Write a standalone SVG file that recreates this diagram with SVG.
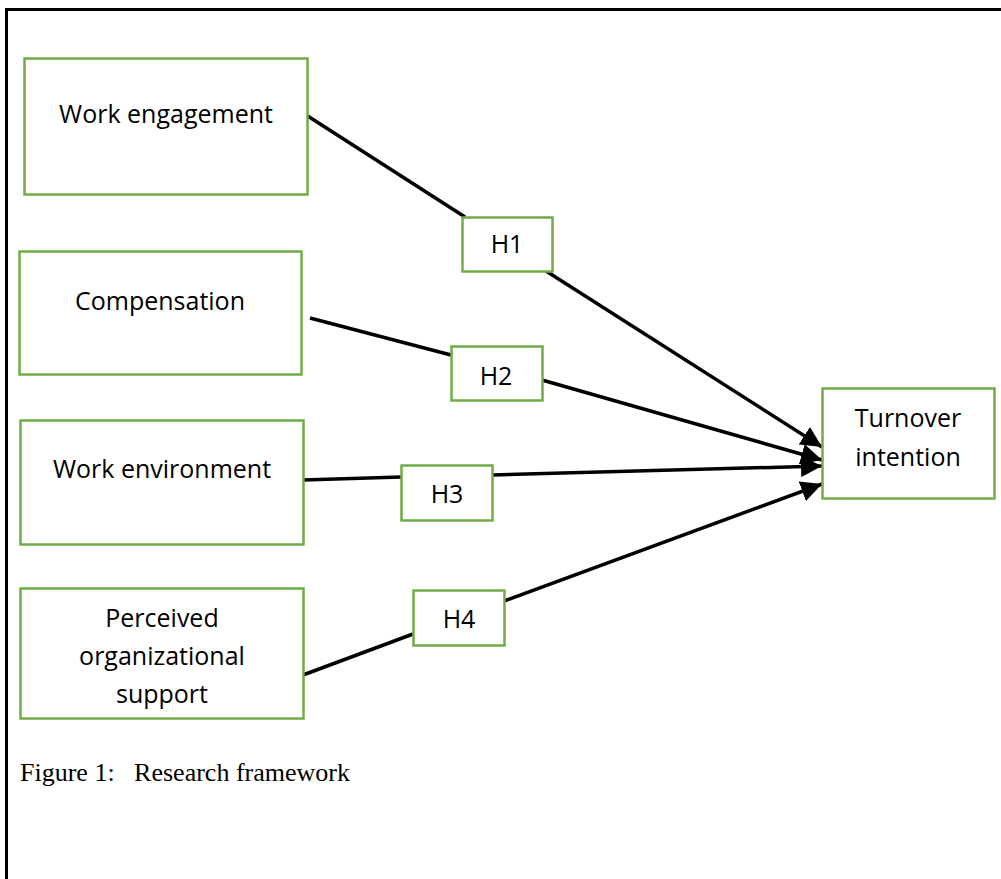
<svg xmlns="http://www.w3.org/2000/svg" width="1001" height="879" viewBox="0 0 1001 879">
  <style>
    .box { fill: #ffffff; stroke: #70ad47; stroke-width: 2.5; }
    .lbl { font-family: "Open Sans", "Noto Sans", sans-serif; font-size: 25px; fill: #000; text-anchor: middle; }
    .edge { stroke: #000; stroke-width: 3.5; fill: none; }
    .cap { font-family: "Liberation Serif", serif; font-size: 26px; fill: #000; }
  </style>
  <defs>
    <marker id="arrow" viewBox="0 0 10 10" refX="10" refY="5" markerWidth="6" markerHeight="6" markerUnits="strokeWidth" orient="auto">
      <path d="M0,0 L10,5 L0,10 z" fill="#000"/>
    </marker>
  </defs>
  <rect width="1001" height="879" fill="#ffffff"/>
  <!-- page frame -->
  <path d="M6.5,879 L6.5,9.5 L1001,9.5" stroke="#000" stroke-width="3" fill="none"/>

  <g id="connectors">
    <line class="edge" x1="303" y1="113" x2="465" y2="217"/>
    <line class="edge" x1="546" y1="271" x2="822" y2="447" marker-end="url(#arrow)"/>
    <line class="edge" x1="310" y1="318" x2="451" y2="355"/>
    <line class="edge" x1="542" y1="380" x2="822" y2="460" marker-end="url(#arrow)"/>
    <line class="edge" x1="303" y1="480" x2="401" y2="477"/>
    <line class="edge" x1="492" y1="475" x2="822" y2="466" marker-end="url(#arrow)"/>
    <line class="edge" x1="303" y1="675" x2="413" y2="634"/>
    <line class="edge" x1="504" y1="601" x2="822" y2="484" marker-end="url(#arrow)"/>
  </g>

  <g id="work-engagement">
    <rect class="box" x="24.5" y="58.5" width="283" height="136"/>
    <text class="lbl" x="166" y="123">Work engagement</text>
  </g>
  <g id="compensation">
    <rect class="box" x="19.5" y="251.5" width="282" height="123"/>
    <text class="lbl" x="160" y="310">Compensation</text>
  </g>
  <g id="work-environment">
    <rect class="box" x="20.5" y="420.5" width="283" height="124"/>
    <text class="lbl" x="162" y="478">Work environment</text>
  </g>
  <g id="perceived-support">
    <rect class="box" x="20.5" y="588.5" width="283" height="130"/>
    <text class="lbl" x="162" y="627">Perceived</text>
    <text class="lbl" x="162" y="665">organizational</text>
    <text class="lbl" x="162" y="703">support</text>
  </g>
  <g id="turnover-intention">
    <rect class="box" x="822.5" y="388.5" width="172" height="110"/>
    <text class="lbl" x="908" y="427">Turnover</text>
    <text class="lbl" x="908" y="466">intention</text>
  </g>

  <g id="h1">
    <rect class="box" x="462.5" y="217.5" width="90" height="54"/>
    <text class="lbl" x="507" y="253">H1</text>
  </g>
  <g id="h2">
    <rect class="box" x="451.5" y="346.5" width="91" height="54"/>
    <text class="lbl" x="496" y="385">H2</text>
  </g>
  <g id="h3">
    <rect class="box" x="401.5" y="465.5" width="91" height="55"/>
    <text class="lbl" x="447" y="503">H3</text>
  </g>
  <g id="h4">
    <rect class="box" x="413.5" y="590.5" width="91" height="55"/>
    <text class="lbl" x="459" y="628">H4</text>
  </g>

  <text class="cap" x="20" y="781" xml:space="preserve">Figure 1:   Research framework</text>
</svg>
